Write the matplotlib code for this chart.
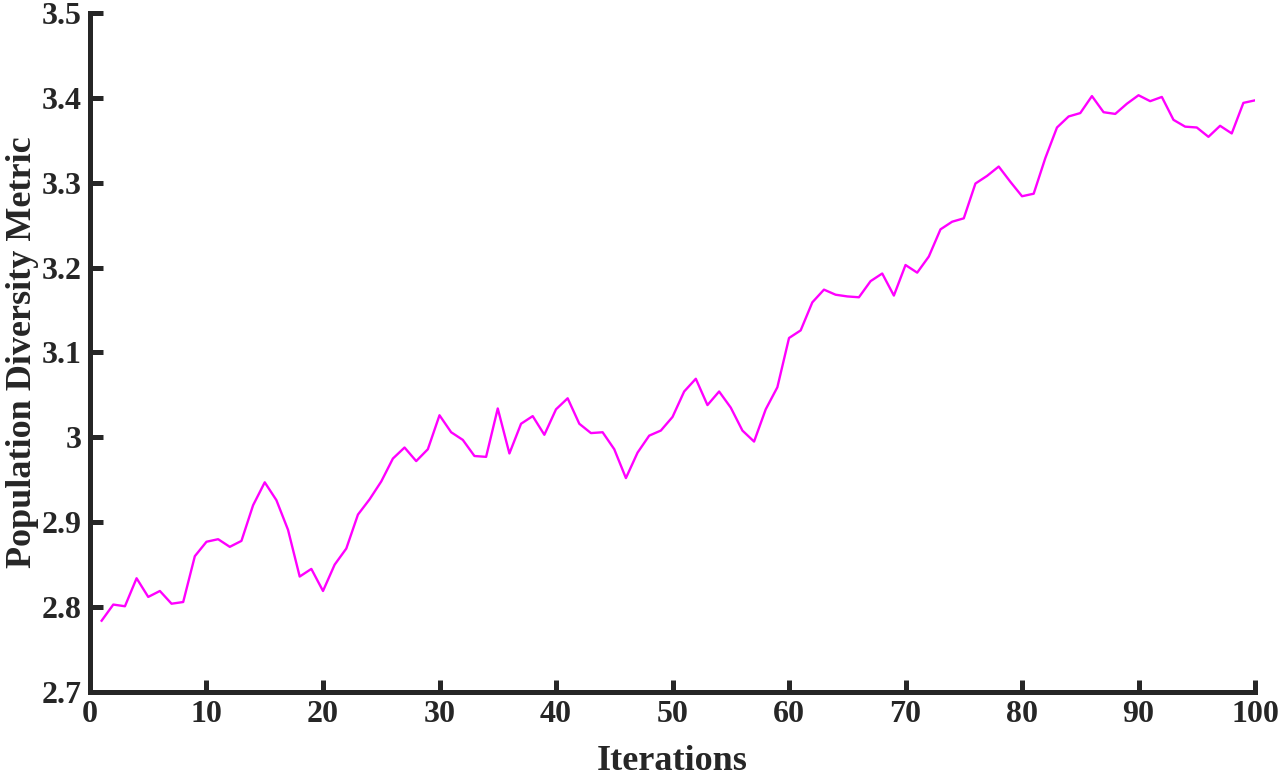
import matplotlib.pyplot as plt

# population diversity per iteration
iterations = list(range(1, 101))
diversity = [
    2.784, 2.803, 2.801, 2.834, 2.812, 2.819, 2.804, 2.806, 2.860, 2.877,
    2.880, 2.871, 2.878, 2.920, 2.947, 2.926, 2.891, 2.836, 2.845, 2.819,
    2.850, 2.869, 2.909, 2.927, 2.948, 2.975, 2.988, 2.972, 2.986, 3.026,
    3.006, 2.997, 2.978, 2.977, 3.034, 2.981, 3.016, 3.025, 3.003, 3.033,
    3.046, 3.016, 3.005, 3.006, 2.986, 2.952, 2.982, 3.002, 3.008, 3.024,
    3.054, 3.069, 3.038, 3.054, 3.035, 3.008, 2.995, 3.033, 3.059, 3.117,
    3.126, 3.159, 3.174, 3.168, 3.166, 3.165, 3.184, 3.193, 3.167, 3.203,
    3.194, 3.213, 3.245, 3.254, 3.258, 3.299, 3.308, 3.319, 3.301, 3.284,
    3.287, 3.329, 3.365, 3.378, 3.382, 3.402, 3.383, 3.381, 3.393, 3.403,
    3.396, 3.401, 3.374, 3.366, 3.365, 3.354, 3.367, 3.358, 3.394, 3.397,
]
xticks = list(range(0, 101, 10))
yticks = [2.7, 2.8, 2.9, 3.0, 3.1, 3.2, 3.3, 3.4, 3.5]
yticklabels = ['2.7', '2.8', '2.9', '3', '3.1', '3.2', '3.3', '3.4', '3.5']

plt.rcParams['font.family'] = ['Liberation Serif', 'DejaVu Serif']
plt.rcParams['font.weight'] = 'bold'

fig = plt.figure(figsize=(12.8, 7.77), dpi=100)
ax = fig.add_axes([0.0703, 0.1094, 0.9102, 0.874])
ax.plot(iterations, diversity, color='#ff00ff', linewidth=1.7)

ax.set_xlim(0, 100)
ax.set_ylim(2.7, 3.5)
ax.set_xticks(xticks)
ax.set_yticks(yticks)
ax.set_yticklabels(yticklabels)

for side in ['top', 'right']:
    ax.spines[side].set_visible(False)
for side in ['left', 'bottom']:
    ax.spines[side].set_linewidth(3.6)
    ax.spines[side].set_color('#262626')
ax.tick_params(direction='in', length=9, width=3.6, color='#262626',
               labelsize=23, labelcolor='#262626', pad=6)
for lab in ax.get_xticklabels() + ax.get_yticklabels():
    lab.set_fontweight('bold')

ax.set_xlabel('Iterations', fontsize=26, fontweight='bold', color='#262626', labelpad=11)
ax.set_ylabel('Population Diversity Metric', fontsize=26, fontweight='bold', color='#262626', labelpad=2)

plt.savefig('out.png', dpi=100)
plt.close()
